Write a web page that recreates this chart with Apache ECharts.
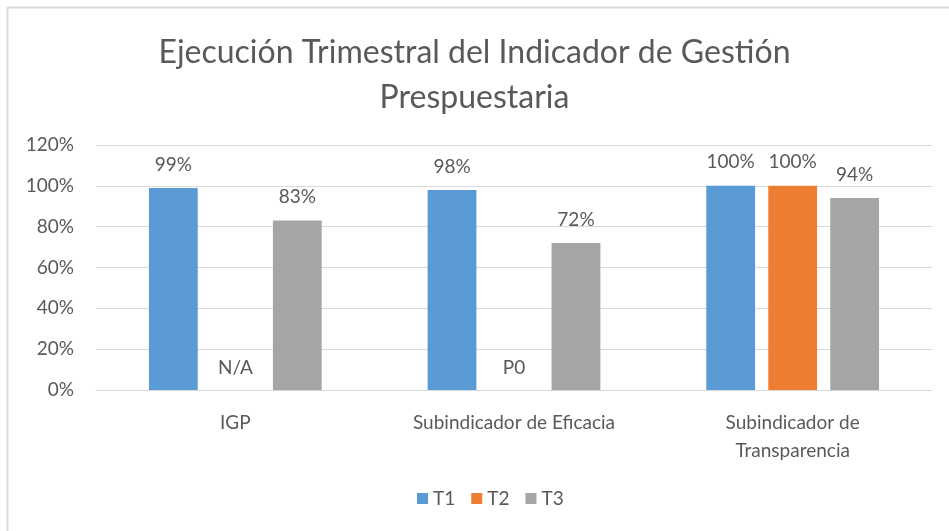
<!DOCTYPE html>
<html>
<head>
<meta charset="utf-8">
<script src="https://cdn.jsdelivr.net/npm/echarts@6/dist/echarts.min.js"></script>
<style>
  html, body { margin: 0; padding: 0; background: #fff; }
  #chart { width: 949px; height: 531px; }
</style>
</head>
<body>
<div id="chart"></div>
<script>
const categories = ["IGP", "Subindicador de Eficacia", "Subindicador de\nTransparencia"];
const seriesNames = ["T1", "T2", "T3"];
const t1Values = [0.99, 0.98, 1.0];
const t2Values = [0, 0, 1.0];
const t2Labels = ["N/A", "P0", null];
const t3Values = [0.83, 0.72, 0.94];
const yTicks = [0, 0.2, 0.4, 0.6, 0.8, 1.0, 1.2];

const textColor = "#595959";
const font = "Lato, 'Open Sans', sans-serif";

const pct = v => Math.round(v * 100) + "%";

const labelStyle = {
  show: true,
  position: "top",
  distance: 14,
  color: textColor,
  fontSize: 19,
  fontFamily: font
};

const chart = echarts.init(document.getElementById("chart"));
chart.setOption({
  animation: false,
  textStyle: { fontFamily: font },
  title: {
    text: "Ejecución Trimestral del Indicador de Gestión\nPrespuestaria",
    left: "center",
    top: 25,
    textStyle: {
      color: textColor,
      fontSize: 32,
      fontWeight: "normal",
      fontFamily: font,
      lineHeight: 45
    }
  },
  graphic: [
    {
      type: "rect",
      shape: { x: 7.5, y: 7.5, width: 1000, height: 600 },
      style: { fill: "none", stroke: "#dcdcdc", lineWidth: 2 },
      silent: true
    }
  ],
  legend: {
    data: seriesNames,
    bottom: 18,
    left: 412,
    itemWidth: 11,
    itemHeight: 11,
    itemGap: 16,
    icon: "rect",
    textStyle: { color: textColor, fontSize: 19, fontFamily: font }
  },
  grid: { left: 96, right: 17, top: 145, bottom: 141, containLabel: false },
  xAxis: {
    type: "category",
    data: categories,
    axisLine: { lineStyle: { color: "#d9d9d9" } },
    axisTick: { show: false },
    axisLabel: {
      color: textColor,
      fontSize: 19,
      fontFamily: font,
      lineHeight: 28,
      margin: 19
    }
  },
  yAxis: {
    type: "value",
    min: 0,
    max: 1.2,
    interval: 0.2,
    axisLine: { show: false },
    axisTick: { show: false },
    splitLine: { lineStyle: { color: "#d9d9d9" } },
    axisLabel: {
      color: textColor,
      fontSize: 19,
      fontFamily: font,
      margin: 22,
      formatter: v => yTicks.some(t => Math.abs(t - v) < 1e-9) ? pct(v) : ""
    }
  },
  series: [
    {
      name: seriesNames[0],
      type: "bar",
      data: t1Values,
      barGap: "27%",
      barCategoryGap: "38%",
      itemStyle: { color: "#5b9bd5" },
      label: Object.assign({}, labelStyle, { formatter: p => pct(p.value) })
    },
    {
      name: seriesNames[1],
      type: "bar",
      data: t2Values.map((v, i) => t2Labels[i]
        ? { value: v, label: { offset: [0, 1], formatter: t2Labels[i] } }
        : v),
      itemStyle: { color: "#ed7d31" },
      label: Object.assign({}, labelStyle, { formatter: p => pct(p.value) })
    },
    {
      name: seriesNames[2],
      type: "bar",
      data: t3Values,
      itemStyle: { color: "#a5a5a5" },
      label: Object.assign({}, labelStyle, { formatter: p => pct(p.value) })
    }
  ]
});
</script>
</body>
</html>
